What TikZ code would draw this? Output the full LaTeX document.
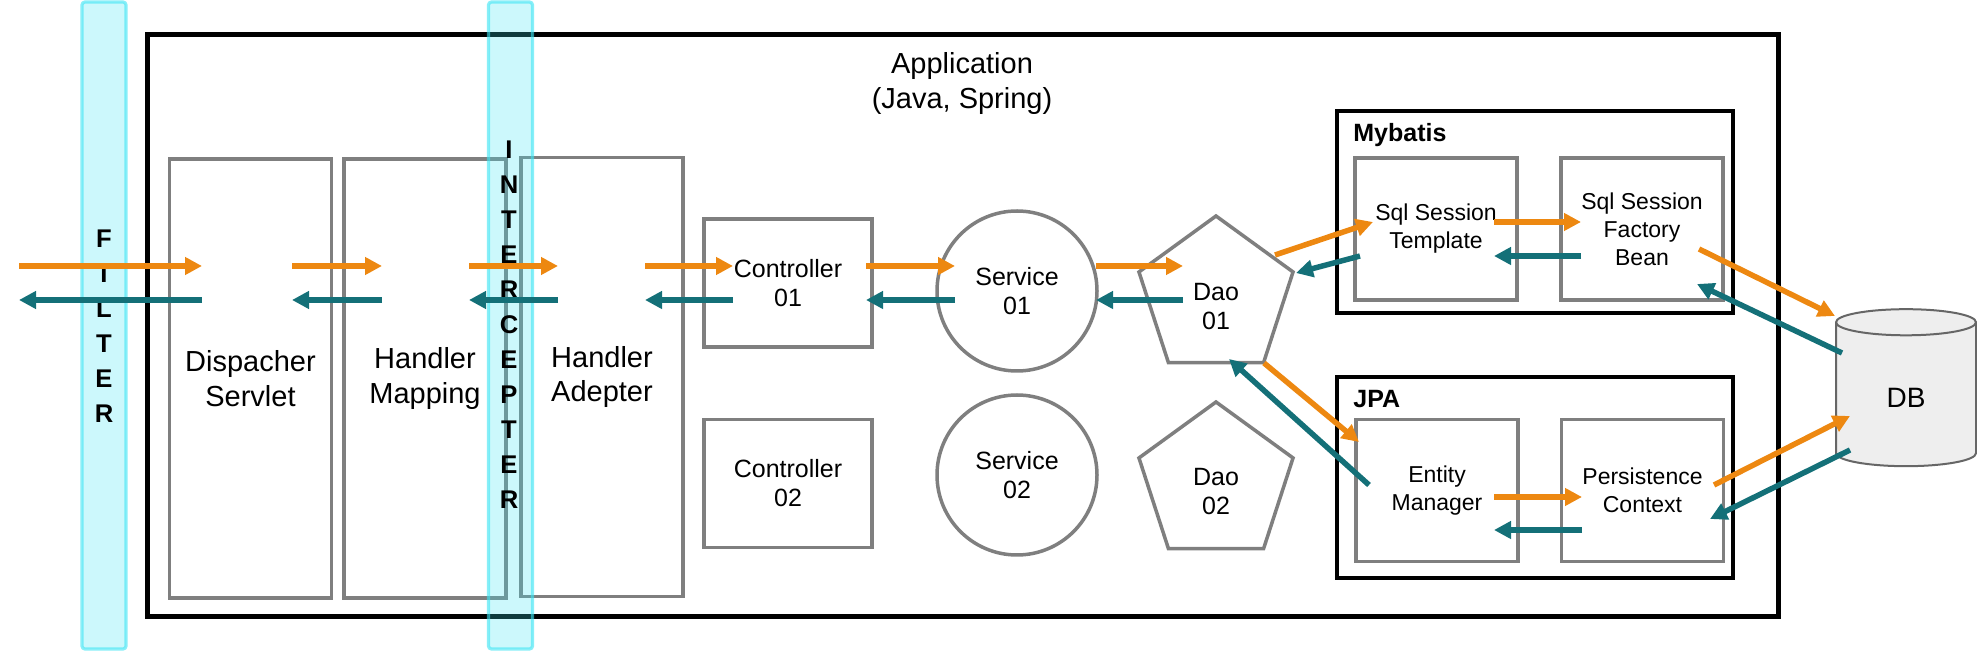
\documentclass[tikz,border=0pt]{standalone}
\usepackage{fontspec}
\setmainfont{Liberation Sans}
\usetikzlibrary{arrows.meta,shapes.geometric}

\definecolor{reqorange}{RGB}{237,136,17}
\definecolor{resteal}{RGB}{20,112,120}
\definecolor{boxgray}{RGB}{127,127,127}
\definecolor{barcyan}{RGB}{58,228,243}
\definecolor{dbgray}{RGB}{238,238,238}

\tikzset{
	comp/.style={draw=boxgray,line width=1.75pt,rectangle,outer sep=0pt,align=center,
		font=\fontsize{12.5}{14.5}\selectfont},
	chainbox/.style={comp,minimum width=81pt,minimum height=219.5pt,
		font=\fontsize{14.5}{17.25}\selectfont},
	ctrlbox/.style={comp,minimum width=84pt,minimum height=64pt},
	servbox/.style={comp,circle,minimum size=80pt},
	daobox/.style={comp,regular polygon,regular polygon sides=5,minimum size=81pt},
	innerbox/.style={comp,minimum width=81pt,minimum height=71pt,
		font=\fontsize{11.5}{14}\selectfont},
	groupbox/.style={draw=black,line width=2pt,rectangle,outer sep=0pt,minimum width=198pt},
	grouptitle/.style={anchor=west,inner sep=0pt,font=\bfseries\fontsize{12.5}{14.5}\selectfont},
	bar/.style={rectangle,rounded corners=1.5pt,draw=barcyan,draw opacity=0.6,fill=barcyan,
		fill opacity=0.26,line width=1.6pt,minimum width=22pt,minimum height=323.5pt,outer sep=0pt},
	barletters/.style={align=center,inner sep=0pt,font=\bfseries\fontsize{12.8}{17.5}\selectfont},
	req/.style={draw=reqorange,line width=2.75pt,-{Triangle[length=8.5pt,width=8.5pt]}},
	res/.style={draw=resteal,line width=2.75pt,-{Triangle[length=8.5pt,width=8.5pt]}}
}

\begin{document}
\begin{tikzpicture}[x=0.5pt,y=-0.5pt]
	\useasboundingbox (0,0) rectangle (1977,651);

	\node[draw=black,line width=2.5pt,minimum width=815.5pt,minimum height=291pt,outer sep=0pt]
		(App) at (962.5,326) {};
	\node[align=center,font=\fontsize{14.5}{17.5}\selectfont] (AppTitle) at (962,84)
		{Application\\(Java, Spring)};

	\node[chainbox] (Dispacher) at (250.5,378.5) {Dispacher\\Servlet};
	\node[chainbox] (Mapping) at (425,378.5) {Handler\\Mapping};
	\node[chainbox] (Adepter) at (602,377) {Handler\\Adepter};

	\node[ctrlbox] (CtrlOne) at (788,283) {Controller\\01};
	\node[ctrlbox] (CtrlTwo) at (788,483.5) {Controller\\02};
	\node[servbox] (ServOne) at (1017,291) {Service\\01};
	\node[servbox] (ServTwo) at (1017,475) {Service\\02};
	\node[daobox] (DaoOne) at (1216,297) {};
	\node[daobox] (DaoTwo) at (1216,483) {};
	\node[align=center,font=\fontsize{12.5}{14.5}\selectfont] (DaoOneText)
		at ([yshift=-5pt]DaoOne.center) {Dao\\01};
	\node[align=center,font=\fontsize{12.5}{14.5}\selectfont] (DaoTwoText)
		at ([yshift=-4.5pt]DaoTwo.center) {Dao\\02};

	\node[groupbox,minimum height=101pt] (Mybatis) at (1535,212) {};
	\node[grouptitle] (MybatisTitle) at ([xshift=8pt,yshift=-12pt]Mybatis.north west) {Mybatis};
	\node[innerbox] (Template) at (1436,229) {Sql Session\\Template};
	\node[innerbox] (Factory) at (1642,229) {Sql Session\\Factory\\Bean};

	\node[groupbox,minimum height=100.5pt] (Jpa) at (1535,477.5) {};
	\node[grouptitle] (JpaTitle) at ([xshift=8pt,yshift=-11pt]Jpa.north west) {JPA};
	\node[innerbox] (Manager) at (1437,490.5) {Entity\\Manager};
	\node[innerbox] (Context) at (1642.5,490.5) {Persistence\\Context};

	\node[cylinder,shape border rotate=90,aspect=0.5,draw=black!60,line width=1pt,fill=dbgray,
		minimum width=70pt,minimum height=78.5pt,outer sep=0pt,font=\fontsize{14}{16}\selectfont]
		(DB) at (1906,397.5) {DB};

	\node[bar] (FilterBar) at (104,325.5) {};
	\node[bar] (InterBar) at (510.5,325.5) {};

	\node[barletters] (FilterText) at (104,326) {F\\I\\L\\T\\E\\R};
	\node[barletters] (InterText) at (509,324.5) {I\\N\\T\\E\\R\\C\\E\\P\\T\\E\\R};

	\foreach \a/\b [count=\i] in {19/202,292/382,469/558,645/733,866/955,1096/1183}{
		\coordinate (ReqFrom\i) at (\a,266);
		\coordinate (ReqTo\i) at (\b,266);
		\coordinate (ResFrom\i) at (\b,300);
		\coordinate (ResTo\i) at (\a,300);
		\draw[req] (ReqFrom\i) -- (ReqTo\i);
		\draw[res] (ResFrom\i) -- (ResTo\i);
	}

	\coordinate (DaoToMy) at (1275,255);
	\coordinate (MyIn) at (1373,222);
	\coordinate (MyOut) at (1360,256);
	\coordinate (DaoFromMy) at (1296,273);
	\draw[req] (DaoToMy) -- (MyIn);
	\draw[res] (MyOut) -- (DaoFromMy);

	\coordinate (TplOut) at (1494,222);
	\coordinate (FacIn) at (1581,222);
	\coordinate (FacOut) at (1581,256);
	\coordinate (TplIn) at (1494,256);
	\draw[req] (TplOut) -- (FacIn);
	\draw[res] (FacOut) -- (TplIn);

	\coordinate (FacToDb) at (1699,249);
	\coordinate (DbTop) at (1835,316);
	\coordinate (DbTopOut) at (1842,353);
	\coordinate (FacFromDb) at (1697,284);
	\draw[req] (FacToDb) -- (DbTop);
	\draw[res] (DbTopOut) -- (FacFromDb);

	\coordinate (DaoToJpa) at (1264,363);
	\coordinate (JpaIn) at (1359,442);
	\coordinate (JpaOut) at (1369,485);
	\coordinate (DaoFromJpa) at (1229,359);
	\draw[req] (DaoToJpa) -- (JpaIn);
	\draw[res] (JpaOut) -- (DaoFromJpa);

	\coordinate (EmOut) at (1494,497);
	\coordinate (PcIn) at (1582,497);
	\coordinate (PcOut) at (1582,530);
	\coordinate (EmIn) at (1494,530);
	\draw[req] (EmOut) -- (PcIn);
	\draw[res] (PcOut) -- (EmIn);

	\coordinate (PcToDb) at (1714,485);
	\coordinate (DbBottom) at (1850,416);
	\coordinate (DbBottomOut) at (1850,450);
	\coordinate (PcFromDb) at (1710,519);
	\draw[req] (PcToDb) -- (DbBottom);
	\draw[res] (DbBottomOut) -- (PcFromDb);
\end{tikzpicture}
\end{document}
